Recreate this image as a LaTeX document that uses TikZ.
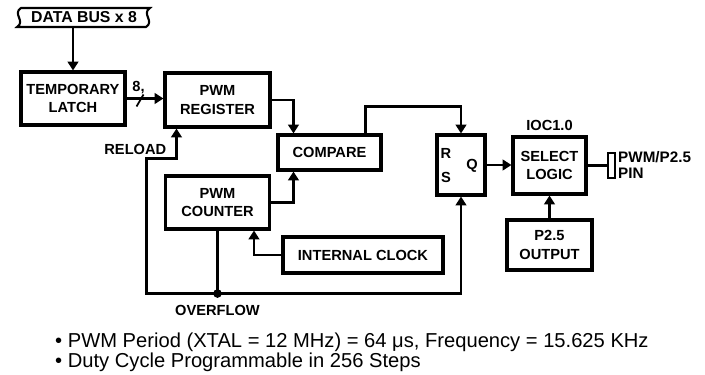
\documentclass[tikz,border=0pt]{standalone}
\usepackage{fontspec}
\setmainfont{Liberation Sans}
\usetikzlibrary{arrows.meta, positioning, calc}

\begin{document}
\begin{tikzpicture}[
    x=0.03cm, y=-0.03cm,
    blk/.style={draw, line width=2.6pt, align=center, inner sep=0pt,
                font=\fontsize{12.5}{16}\selectfont\bfseries},
    lbl/.style={inner sep=0pt, font=\fontsize{12.5}{16}\selectfont\bfseries},
    arr/.style={-{Triangle[length=7.5pt, width=9pt]}, line width=2pt},
    wire/.style={line width=2pt},
    note/.style={anchor=west, inner sep=0pt, font=\fontsize{17.2}{20}\selectfont},
  ]
  \useasboundingbox (0,0) rectangle (705,375);

  % data bus banner
  \draw[line width=1.8pt] (21,8) -- (150,8) .. controls (141,14) and (155,21) .. (146,27)
    -- (17,27) .. controls (26,21) and (12,14) .. (21,8) -- cycle;
  \node[lbl, minimum height=0.57cm, font=\fontsize{13.5}{16}\selectfont\bfseries] (bus) at (84,17.5) {DATA BUS x 8};

  \node[blk, minimum width=3.12cm, minimum height=1.59cm] (latch) at (73,98.5) {TEMPORARY\\LATCH};
  \node[blk, minimum width=3.15cm, minimum height=1.62cm] (reg) at (217.5,100) {PWM\\REGISTER};
  \node[blk, minimum width=3.12cm, minimum height=1.59cm] (counter) at (217.5,202.5) {PWM\\COUNTER};
  \node[blk, minimum width=3.09cm, minimum height=1.05cm] (cmp) at (329.5,152.5) {COMPARE};
  \node[blk, minimum width=4.8cm, minimum height=1.08cm] (clock) at (363,255) {INTERNAL CLOCK};
  \node[blk, minimum width=1.44cm, minimum height=1.8cm] (rs) at (461,165) {};
  \node[lbl] (rlab) at (446,153) {R};
  \node[lbl] (slab) at (446,177) {S};
  \node[lbl] (qlab) at (472,166) {Q};
  \node[blk, minimum width=2.19cm, minimum height=1.71cm] (sel) at (549.5,165.5) {SELECT\\LOGIC};
  \node[lbl, above=0.15cm of sel] (ioc) {IOC1.0};
  \node[blk, minimum width=2.55cm, minimum height=1.5cm] (p25) at (549.5,245) {P2.5\\OUTPUT};
  \node[draw, line width=1.8pt, minimum width=0.21cm, minimum height=0.75cm, inner sep=0pt] (pin) at (611.5,165.5) {};
  \node[lbl, anchor=west, align=left, font=\fontsize{13}{13}\selectfont\bfseries] (pinlab) at (618,165) {PWM/P2.5\\PIN};
  \node[lbl, anchor=east] (reload) at ($(reg.south west)+(3,21)$) {RELOAD};
  \node[circle, fill, inner sep=0pt, minimum size=0.26cm] (ovf) at ($(counter.south)+(0,63)$) {};
  \node[lbl, below=0.2cm of ovf] (ovflab) {OVERFLOW};
  \node[lbl] (eight) at ($(latch.east)+(12,-11)$) {8,};

  \draw[arr] (bus.south -| latch.north) -- (latch.north);
  \draw[arr] (latch.east) -- (latch.east -| reg.west);
  \draw[line width=1.5pt] ($(latch.east)+(10,8)$) -- ++(7,-12);
  \draw[arr] (reg.east) -| ($(cmp.north west)+(17,0)$);
  \draw[arr] (counter.east) -| ($(cmp.south west)+(17,0)$);
  \draw[arr] ($(cmp.north east)+(-17,0)$) -- ++(0,-27) -| (rs.north);
  \draw[arr] (rs.east) -- (rs.east -| sel.west);
  \draw[arr] (p25.north) -- (sel.south);
  \draw[wire] (sel.east) -- (sel.east -| pin.west);
  \draw[arr] (clock.west) -| ($(counter.south west)+(90,0)$);
  \draw[wire] (counter.south) -- (ovf.center);
  \draw[arr] (ovf.center) -| ($(reg.south west)+(-17,30)$) -| ($(reg.south west)+(13,0)$);
  \draw[arr] (ovf.center) -| (rs.south);

  \node[note] (n1) at (55,342) {• PWM Period (XTAL = 12 MHz) = 64 μs, Frequency = 15.625 KHz};
  \node[note] (n2) at (55,362) {• Duty Cycle Programmable in 256 Steps};
\end{tikzpicture}
\end{document}
